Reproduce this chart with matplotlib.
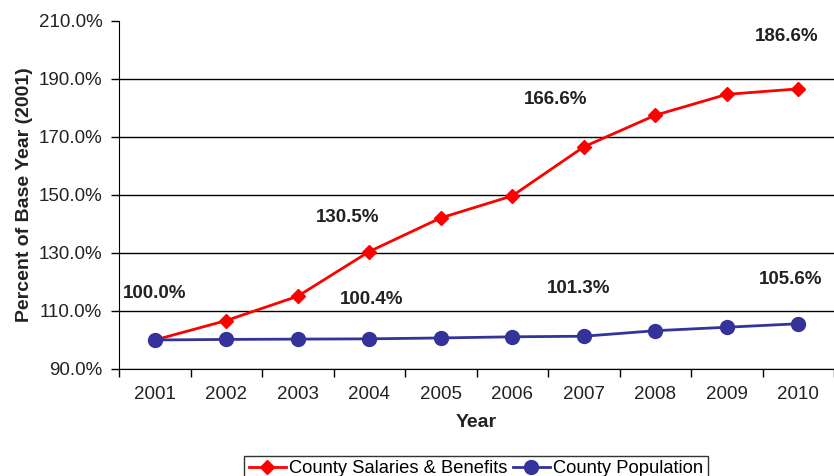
import matplotlib.pyplot as plt
from matplotlib.ticker import FixedLocator, FuncFormatter

plt.rcParams['font.family'] = ['Liberation Sans', 'DejaVu Sans']

years = ['2001', '2002', '2003', '2004', '2005', '2006', '2007', '2008', '2009', '2010']
salaries = [100.0, 106.7, 115.1, 130.5, 142.1, 149.7, 166.6, 177.5, 184.7, 186.6]
population = [100.0, 100.2, 100.3, 100.4, 100.7, 101.1, 101.3, 103.2, 104.4, 105.6]

# labels written on the chart: (text, x position in category units, y value)
annotations = [
    ('100.0%', 0.5, 115.9),
    ('130.5%', 3.2, 142.1),
    ('166.6%', 6.1, 182.8),
    ('186.6%', 9.34, 204.5),
    ('100.4%', 3.54, 114.1),
    ('101.3%', 6.43, 117.9),
    ('105.6%', 9.4, 121.0),
]

fig = plt.figure(figsize=(8.34, 4.76), dpi=100)
ax = fig.add_axes([0.1427, 0.2248, 0.8573, 0.7311])

xs = [i + 0.5 for i in range(len(years))]
ax.plot(xs, salaries, color='#ff0000', lw=2, marker='D', ms=7.5,
        label='County Salaries & Benefits', zorder=3)
ax.plot(xs, population, color='#333399', lw=2, marker='o', ms=10,
        label='County Population', zorder=3)

for txt, x, y in annotations:
    ax.text(x, y, txt, ha='center', va='center', fontsize=13.5, fontweight='bold', color='#222222')

ax.set_xlim(0, 10)
ax.set_ylim(90, 210)
ax.xaxis.set_major_locator(FixedLocator(range(11)))
ax.xaxis.set_major_formatter(FuncFormatter(lambda v, p: ''))
ax.xaxis.set_minor_locator(FixedLocator(xs))
ax.set_xticklabels(years, minor=True)
ax.tick_params(axis='x', which='major', direction='out', length=6, width=1)
ax.tick_params(axis='x', which='minor', length=0, pad=12, labelsize=13.5, labelcolor='#222222')
ax.set_yticks(range(90, 211, 20))
ax.yaxis.set_major_formatter(FuncFormatter(lambda v, p: f'{v:.1f}%'))
ax.tick_params(axis='y', direction='out', length=6, width=1, labelsize=13.5, pad=6,
               labelcolor='#222222')

ax.yaxis.grid(True, color='#000000', lw=1)
ax.yaxis.get_gridlines()[-1].set_visible(False)
ax.set_axisbelow(True)
for s in ['top', 'right']:
    ax.spines[s].set_visible(False)

ax.set_xlabel('Year', fontsize=14, fontweight='bold', labelpad=8, color='#222222')
ax.set_ylabel('Percent of Base Year (2001)', fontsize=14, fontweight='bold', labelpad=4,
              color='#222222')

fig.legend(loc='upper center', bbox_to_anchor=(0.571, 0.043), ncol=2, fontsize=13.2,
           frameon=True, fancybox=False, edgecolor='black', borderpad=0.25, borderaxespad=0,
           handlelength=2.0, handletextpad=0.2, columnspacing=0.3)

fig.savefig('out.png', dpi=100)
